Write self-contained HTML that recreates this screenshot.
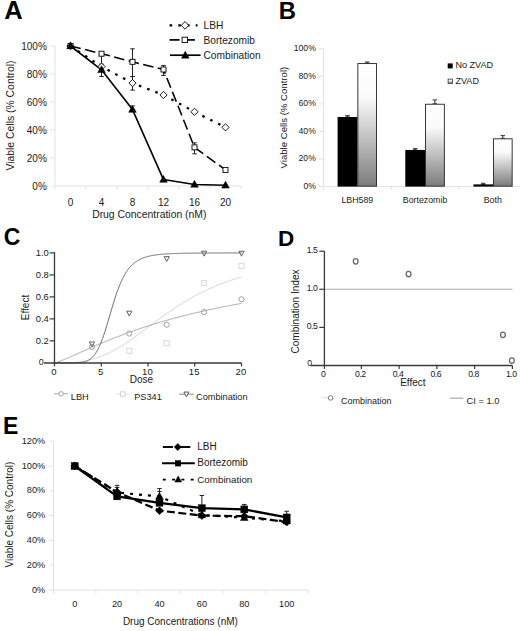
<!DOCTYPE html><html><head><meta charset="utf-8"><style>html,body{margin:0;padding:0;background:#fff;width:520px;height:631px;overflow:hidden}svg{display:block}text{font-family:"Liberation Sans",sans-serif}</style></head><body>
<svg width="520" height="631" viewBox="0 0 520 631">
<defs><linearGradient id="gb" x1="0" y1="0" x2="0" y2="1"><stop offset="0" stop-color="#ffffff"/><stop offset="0.28" stop-color="#fafafa"/><stop offset="1" stop-color="#7c7c7c"/></linearGradient></defs>
<rect width="520" height="631" fill="#fff"/>
<line x1="55.00" y1="46.00" x2="55.00" y2="189.50" stroke="#e2e2e2" stroke-width="1" stroke-linecap="butt"/>
<line x1="55.00" y1="186.00" x2="241.00" y2="186.00" stroke="#e2e2e2" stroke-width="1" stroke-linecap="butt"/>
<line x1="50.50" y1="186.00" x2="55.00" y2="186.00" stroke="#e2e2e2" stroke-width="1" stroke-linecap="butt"/>
<line x1="50.50" y1="158.00" x2="55.00" y2="158.00" stroke="#e2e2e2" stroke-width="1" stroke-linecap="butt"/>
<line x1="50.50" y1="130.00" x2="55.00" y2="130.00" stroke="#e2e2e2" stroke-width="1" stroke-linecap="butt"/>
<line x1="50.50" y1="102.00" x2="55.00" y2="102.00" stroke="#e2e2e2" stroke-width="1" stroke-linecap="butt"/>
<line x1="50.50" y1="74.00" x2="55.00" y2="74.00" stroke="#e2e2e2" stroke-width="1" stroke-linecap="butt"/>
<line x1="50.50" y1="46.00" x2="55.00" y2="46.00" stroke="#e2e2e2" stroke-width="1" stroke-linecap="butt"/>
<line x1="86.00" y1="186.00" x2="86.00" y2="189.50" stroke="#e2e2e2" stroke-width="1" stroke-linecap="butt"/>
<line x1="117.00" y1="186.00" x2="117.00" y2="189.50" stroke="#e2e2e2" stroke-width="1" stroke-linecap="butt"/>
<line x1="148.00" y1="186.00" x2="148.00" y2="189.50" stroke="#e2e2e2" stroke-width="1" stroke-linecap="butt"/>
<line x1="179.00" y1="186.00" x2="179.00" y2="189.50" stroke="#e2e2e2" stroke-width="1" stroke-linecap="butt"/>
<line x1="210.00" y1="186.00" x2="210.00" y2="189.50" stroke="#e2e2e2" stroke-width="1" stroke-linecap="butt"/>
<line x1="241.00" y1="186.00" x2="241.00" y2="189.50" stroke="#e2e2e2" stroke-width="1" stroke-linecap="butt"/>
<text x="46.80" y="189.50" font-size="10" text-anchor="end" fill="#1a1a1a" font-weight="normal">0%</text>
<text x="46.80" y="161.50" font-size="10" text-anchor="end" fill="#1a1a1a" font-weight="normal">20%</text>
<text x="46.80" y="133.50" font-size="10" text-anchor="end" fill="#1a1a1a" font-weight="normal">40%</text>
<text x="46.80" y="105.50" font-size="10" text-anchor="end" fill="#1a1a1a" font-weight="normal">60%</text>
<text x="46.80" y="77.50" font-size="10" text-anchor="end" fill="#1a1a1a" font-weight="normal">80%</text>
<text x="46.80" y="49.50" font-size="10" text-anchor="end" fill="#1a1a1a" font-weight="normal">100%</text>
<text x="70.50" y="205.60" font-size="10" text-anchor="middle" fill="#1a1a1a" font-weight="normal">0</text>
<text x="101.50" y="205.60" font-size="10" text-anchor="middle" fill="#1a1a1a" font-weight="normal">4</text>
<text x="132.50" y="205.60" font-size="10" text-anchor="middle" fill="#1a1a1a" font-weight="normal">8</text>
<text x="163.50" y="205.60" font-size="10" text-anchor="middle" fill="#1a1a1a" font-weight="normal">12</text>
<text x="194.50" y="205.60" font-size="10" text-anchor="middle" fill="#1a1a1a" font-weight="normal">16</text>
<text x="225.50" y="205.60" font-size="10" text-anchor="middle" fill="#1a1a1a" font-weight="normal">20</text>
<text x="149.30" y="218.20" font-size="10.4" text-anchor="middle" fill="#1a1a1a" font-weight="normal">Drug Concentration (nM)</text>
<text x="14.00" y="115.50" font-size="10.4" text-anchor="middle" fill="#1a1a1a" font-weight="normal" transform="rotate(-90 14 115.5)">Viable Cells (% Control)</text>
<line x1="101.50" y1="53.70" x2="101.50" y2="64.20" stroke="#222" stroke-width="1" stroke-linecap="butt"/>
<line x1="99.25" y1="53.70" x2="103.75" y2="53.70" stroke="#222" stroke-width="1" stroke-linecap="butt"/>
<line x1="99.25" y1="64.20" x2="103.75" y2="64.20" stroke="#222" stroke-width="1" stroke-linecap="butt"/>
<line x1="101.50" y1="69.80" x2="101.50" y2="76.52" stroke="#222" stroke-width="1" stroke-linecap="butt"/>
<line x1="99.25" y1="69.80" x2="103.75" y2="69.80" stroke="#222" stroke-width="1" stroke-linecap="butt"/>
<line x1="99.25" y1="76.52" x2="103.75" y2="76.52" stroke="#222" stroke-width="1" stroke-linecap="butt"/>
<line x1="132.50" y1="48.80" x2="132.50" y2="76.52" stroke="#222" stroke-width="1" stroke-linecap="butt"/>
<line x1="130.25" y1="48.80" x2="134.75" y2="48.80" stroke="#222" stroke-width="1" stroke-linecap="butt"/>
<line x1="130.25" y1="76.52" x2="134.75" y2="76.52" stroke="#222" stroke-width="1" stroke-linecap="butt"/>
<line x1="132.50" y1="76.52" x2="132.50" y2="90.10" stroke="#222" stroke-width="1" stroke-linecap="butt"/>
<line x1="130.25" y1="76.52" x2="134.75" y2="76.52" stroke="#222" stroke-width="1" stroke-linecap="butt"/>
<line x1="130.25" y1="90.10" x2="134.75" y2="90.10" stroke="#222" stroke-width="1" stroke-linecap="butt"/>
<line x1="132.50" y1="105.92" x2="132.50" y2="109.56" stroke="#222" stroke-width="1" stroke-linecap="butt"/>
<line x1="130.25" y1="105.92" x2="134.75" y2="105.92" stroke="#222" stroke-width="1" stroke-linecap="butt"/>
<line x1="130.25" y1="109.56" x2="134.75" y2="109.56" stroke="#222" stroke-width="1" stroke-linecap="butt"/>
<line x1="163.50" y1="65.46" x2="163.50" y2="75.40" stroke="#222" stroke-width="1" stroke-linecap="butt"/>
<line x1="161.25" y1="65.46" x2="165.75" y2="65.46" stroke="#222" stroke-width="1" stroke-linecap="butt"/>
<line x1="161.25" y1="75.40" x2="165.75" y2="75.40" stroke="#222" stroke-width="1" stroke-linecap="butt"/>
<line x1="194.50" y1="142.88" x2="194.50" y2="153.80" stroke="#222" stroke-width="1" stroke-linecap="butt"/>
<line x1="192.25" y1="142.88" x2="196.75" y2="142.88" stroke="#222" stroke-width="1" stroke-linecap="butt"/>
<line x1="192.25" y1="153.80" x2="196.75" y2="153.80" stroke="#222" stroke-width="1" stroke-linecap="butt"/>
<polyline points="70.50,46.00 101.50,66.58 132.50,83.10 163.50,95.00 194.50,111.80 225.50,127.34" fill="none" stroke="#000" stroke-width="2.2" stroke-dasharray="2.6,6.2" stroke-linecap="butt" stroke-linejoin="round"/>
<polyline points="70.50,46.00 101.50,53.70 132.50,61.82 163.50,69.52 194.50,147.36 225.50,169.90" fill="none" stroke="#000" stroke-width="1.55" stroke-dasharray="10.5,4.5" stroke-linecap="butt" stroke-linejoin="round"/>
<polyline points="70.50,46.00 101.50,69.80 132.50,109.56 163.50,179.56 194.50,184.46 225.50,185.30" fill="none" stroke="#000" stroke-width="1.6" stroke-linecap="butt" stroke-linejoin="round"/>
<path d="M70.50,42.40 L74.10,46.00 L70.50,49.60 L66.90,46.00 Z" fill="#fff" stroke="#000" stroke-width="0.9"/>
<path d="M101.50,62.98 L105.10,66.58 L101.50,70.18 L97.90,66.58 Z" fill="#fff" stroke="#000" stroke-width="0.9"/>
<path d="M132.50,79.50 L136.10,83.10 L132.50,86.70 L128.90,83.10 Z" fill="#fff" stroke="#000" stroke-width="0.9"/>
<path d="M163.50,91.40 L167.10,95.00 L163.50,98.60 L159.90,95.00 Z" fill="#fff" stroke="#000" stroke-width="0.9"/>
<path d="M194.50,108.20 L198.10,111.80 L194.50,115.40 L190.90,111.80 Z" fill="#fff" stroke="#000" stroke-width="0.9"/>
<path d="M225.50,123.74 L229.10,127.34 L225.50,130.94 L221.90,127.34 Z" fill="#fff" stroke="#000" stroke-width="0.9"/>
<rect x="68.00" y="43.50" width="5.00" height="5.00" fill="#fff" stroke="#000" stroke-width="0.9"/>
<rect x="99.00" y="51.20" width="5.00" height="5.00" fill="#fff" stroke="#000" stroke-width="0.9"/>
<rect x="130.00" y="59.32" width="5.00" height="5.00" fill="#fff" stroke="#000" stroke-width="0.9"/>
<rect x="161.00" y="67.02" width="5.00" height="5.00" fill="#fff" stroke="#000" stroke-width="0.9"/>
<rect x="192.00" y="144.86" width="5.00" height="5.00" fill="#fff" stroke="#000" stroke-width="0.9"/>
<rect x="223.00" y="167.40" width="5.00" height="5.00" fill="#fff" stroke="#000" stroke-width="0.9"/>
<path d="M70.50,41.90 L74.30,48.74 L66.70,48.74 Z" fill="#000" stroke="#000" stroke-width="0.5" stroke-linejoin="miter"/>
<path d="M101.50,65.70 L105.30,72.54 L97.70,72.54 Z" fill="#000" stroke="#000" stroke-width="0.5" stroke-linejoin="miter"/>
<path d="M132.50,105.46 L136.30,112.30 L128.70,112.30 Z" fill="#000" stroke="#000" stroke-width="0.5" stroke-linejoin="miter"/>
<path d="M163.50,175.46 L167.30,182.30 L159.70,182.30 Z" fill="#000" stroke="#000" stroke-width="0.5" stroke-linejoin="miter"/>
<path d="M194.50,180.36 L198.30,187.20 L190.70,187.20 Z" fill="#000" stroke="#000" stroke-width="0.5" stroke-linejoin="miter"/>
<path d="M225.50,181.20 L229.30,188.04 L221.70,188.04 Z" fill="#000" stroke="#000" stroke-width="0.5" stroke-linejoin="miter"/>
<polyline points="169.60,25.40 197.50,25.40" fill="none" stroke="#000" stroke-width="2.2" stroke-dasharray="2.6,6.1" stroke-linecap="butt" stroke-linejoin="round"/>
<path d="M185.00,21.60 L188.80,25.40 L185.00,29.20 L181.20,25.40 Z" fill="#fff" stroke="#000" stroke-width="0.9"/>
<text x="203.50" y="29.00" font-size="10.2" text-anchor="start" fill="#1a1a1a" font-weight="normal">LBH</text>
<line x1="169.50" y1="39.90" x2="179.60" y2="39.90" stroke="#000" stroke-width="1.7" stroke-linecap="butt"/>
<line x1="187.20" y1="39.90" x2="194.90" y2="39.90" stroke="#000" stroke-width="1.7" stroke-linecap="butt"/>
<rect x="182.10" y="37.20" width="5.40" height="5.40" fill="#fff" stroke="#000" stroke-width="0.9"/>
<text x="203.50" y="43.80" font-size="10.2" text-anchor="start" fill="#1a1a1a" font-weight="normal">Bortezomib</text>
<line x1="169.90" y1="55.20" x2="200.60" y2="55.20" stroke="#000" stroke-width="1.7" stroke-linecap="butt"/>
<path d="M185.30,51.30 L189.10,58.14 L181.50,58.14 Z" fill="#000" stroke="#000" stroke-width="0.5" stroke-linejoin="miter"/>
<text x="203.50" y="59.20" font-size="10.2" text-anchor="start" fill="#1a1a1a" font-weight="normal">Combination</text>
<text x="4.30" y="19.00" font-size="25.5" text-anchor="start" fill="#000" font-weight="bold">A</text>
<line x1="323.50" y1="48.80" x2="323.50" y2="190.00" stroke="#e2e2e2" stroke-width="1" stroke-linecap="butt"/>
<line x1="323.50" y1="186.60" x2="520.00" y2="186.60" stroke="#e2e2e2" stroke-width="1" stroke-linecap="butt"/>
<line x1="319.00" y1="186.60" x2="323.50" y2="186.60" stroke="#e2e2e2" stroke-width="1" stroke-linecap="butt"/>
<line x1="319.00" y1="159.04" x2="323.50" y2="159.04" stroke="#e2e2e2" stroke-width="1" stroke-linecap="butt"/>
<line x1="319.00" y1="131.48" x2="323.50" y2="131.48" stroke="#e2e2e2" stroke-width="1" stroke-linecap="butt"/>
<line x1="319.00" y1="103.92" x2="323.50" y2="103.92" stroke="#e2e2e2" stroke-width="1" stroke-linecap="butt"/>
<line x1="319.00" y1="76.36" x2="323.50" y2="76.36" stroke="#e2e2e2" stroke-width="1" stroke-linecap="butt"/>
<line x1="319.00" y1="48.80" x2="323.50" y2="48.80" stroke="#e2e2e2" stroke-width="1" stroke-linecap="butt"/>
<line x1="391.20" y1="186.60" x2="391.20" y2="190.00" stroke="#e2e2e2" stroke-width="1" stroke-linecap="butt"/>
<line x1="458.90" y1="186.60" x2="458.90" y2="190.00" stroke="#e2e2e2" stroke-width="1" stroke-linecap="butt"/>
<text x="315.80" y="189.00" font-size="8.6" text-anchor="end" fill="#1a1a1a" font-weight="normal">0%</text>
<text x="315.80" y="161.44" font-size="8.6" text-anchor="end" fill="#1a1a1a" font-weight="normal">20%</text>
<text x="315.80" y="133.88" font-size="8.6" text-anchor="end" fill="#1a1a1a" font-weight="normal">40%</text>
<text x="315.80" y="106.32" font-size="8.6" text-anchor="end" fill="#1a1a1a" font-weight="normal">60%</text>
<text x="315.80" y="78.76" font-size="8.6" text-anchor="end" fill="#1a1a1a" font-weight="normal">80%</text>
<text x="315.80" y="51.20" font-size="8.6" text-anchor="end" fill="#1a1a1a" font-weight="normal">100%</text>
<text x="357.35" y="203.30" font-size="8.8" text-anchor="middle" fill="#1a1a1a" font-weight="normal">LBH589</text>
<text x="425.05" y="203.30" font-size="8.8" text-anchor="middle" fill="#1a1a1a" font-weight="normal">Bortezomib</text>
<text x="492.75" y="203.30" font-size="8.8" text-anchor="middle" fill="#1a1a1a" font-weight="normal">Both</text>
<text x="286.70" y="117.60" font-size="9.6" text-anchor="middle" fill="#1a1a1a" font-weight="normal" transform="rotate(-90 286.7 117.6)">Viable Cells (% Control)</text>
<line x1="347.50" y1="115.63" x2="347.50" y2="117.01" stroke="#333" stroke-width="1" stroke-linecap="butt"/>
<line x1="345.25" y1="115.63" x2="349.75" y2="115.63" stroke="#333" stroke-width="1" stroke-linecap="butt"/>
<line x1="345.25" y1="117.01" x2="349.75" y2="117.01" stroke="#333" stroke-width="1" stroke-linecap="butt"/>
<rect x="337.60" y="117.01" width="19.80" height="69.59" fill="#000"/>
<line x1="415.15" y1="148.57" x2="415.15" y2="149.95" stroke="#333" stroke-width="1" stroke-linecap="butt"/>
<line x1="412.90" y1="148.57" x2="417.40" y2="148.57" stroke="#333" stroke-width="1" stroke-linecap="butt"/>
<line x1="412.90" y1="149.95" x2="417.40" y2="149.95" stroke="#333" stroke-width="1" stroke-linecap="butt"/>
<rect x="405.30" y="149.95" width="19.70" height="36.65" fill="#000"/>
<line x1="483.20" y1="183.29" x2="483.20" y2="184.40" stroke="#333" stroke-width="1" stroke-linecap="butt"/>
<line x1="480.95" y1="183.29" x2="485.45" y2="183.29" stroke="#333" stroke-width="1" stroke-linecap="butt"/>
<line x1="480.95" y1="184.40" x2="485.45" y2="184.40" stroke="#333" stroke-width="1" stroke-linecap="butt"/>
<rect x="473.40" y="184.40" width="19.60" height="2.20" fill="#000"/>
<line x1="367.20" y1="62.03" x2="367.20" y2="63.13" stroke="#333" stroke-width="1" stroke-linecap="butt"/>
<line x1="364.95" y1="62.03" x2="369.45" y2="62.03" stroke="#333" stroke-width="1" stroke-linecap="butt"/>
<line x1="364.95" y1="63.13" x2="369.45" y2="63.13" stroke="#333" stroke-width="1" stroke-linecap="butt"/>
<rect x="357.85" y="63.58" width="18.70" height="122.57" fill="url(#gb)" stroke="#222" stroke-width="0.9"/>
<line x1="434.90" y1="99.92" x2="434.90" y2="103.78" stroke="#333" stroke-width="1" stroke-linecap="butt"/>
<line x1="432.65" y1="99.92" x2="437.15" y2="99.92" stroke="#333" stroke-width="1" stroke-linecap="butt"/>
<line x1="432.65" y1="103.78" x2="437.15" y2="103.78" stroke="#333" stroke-width="1" stroke-linecap="butt"/>
<rect x="425.45" y="104.23" width="18.90" height="81.92" fill="url(#gb)" stroke="#222" stroke-width="0.9"/>
<line x1="502.80" y1="135.61" x2="502.80" y2="138.37" stroke="#333" stroke-width="1" stroke-linecap="butt"/>
<line x1="500.55" y1="135.61" x2="505.05" y2="135.61" stroke="#333" stroke-width="1" stroke-linecap="butt"/>
<line x1="500.55" y1="138.37" x2="505.05" y2="138.37" stroke="#333" stroke-width="1" stroke-linecap="butt"/>
<rect x="493.45" y="138.82" width="18.70" height="47.33" fill="url(#gb)" stroke="#222" stroke-width="0.9"/>
<rect x="447.7" y="63.4" width="5" height="5" fill="#000"/>
<text x="455.40" y="68.20" font-size="9.1" text-anchor="start" fill="#1a1a1a" font-weight="normal">No ZVAD</text>
<rect x="448.1" y="79.1" width="4.4" height="4.4" fill="url(#gb)" stroke="#333" stroke-width="0.8"/>
<text x="455.40" y="83.90" font-size="9.1" text-anchor="start" fill="#1a1a1a" font-weight="normal">ZVAD</text>
<text x="278.80" y="18.80" font-size="23.8" text-anchor="start" fill="#000" font-weight="bold">B</text>
<polyline points="54.50,362.90 54.97,362.90 55.44,362.90 55.90,362.90 56.37,362.90 56.84,362.90 57.30,362.90 57.77,362.90 58.24,362.90 58.71,362.89 59.17,362.89 59.64,362.89 60.11,362.88 60.58,362.88 61.05,362.88 61.51,362.87 61.98,362.87 62.45,362.86 62.91,362.85 63.38,362.84 63.85,362.83 64.32,362.82 64.78,362.81 65.25,362.80 65.72,362.79 66.19,362.77 66.66,362.76 67.12,362.74 67.59,362.72 68.06,362.71 68.53,362.69 68.99,362.66 69.46,362.64 69.93,362.62 70.39,362.59 70.86,362.57 71.33,362.54 71.80,362.51 72.27,362.48 72.73,362.44 73.20,362.41 73.67,362.37 74.14,362.33 74.60,362.29 75.07,362.25 75.54,362.21 76.00,362.16 76.47,362.12 76.94,362.07 77.41,362.02 77.88,361.96 78.34,361.91 78.81,361.85 79.28,361.79 79.75,361.73 80.21,361.67 80.68,361.60 81.15,361.54 81.61,361.47 82.08,361.40 82.55,361.32 83.02,361.25 83.48,361.17 83.95,361.09 84.42,361.00 84.89,360.92 85.35,360.83 85.82,360.74 86.29,360.65 86.76,360.55 87.22,360.45 87.69,360.35 88.16,360.25 88.63,360.14 89.09,360.04 89.56,359.93 90.03,359.81 90.50,359.70 90.97,359.58 91.43,359.46 91.90,359.33 92.37,359.21 92.83,359.08 93.30,358.95 93.77,358.81 94.24,358.67 94.70,358.53 95.17,358.39 95.64,358.25 96.11,358.10 96.57,357.95 97.04,357.79 97.51,357.64 97.98,357.48 98.44,357.31 98.91,357.15 99.38,356.98 99.85,356.81 100.31,356.64 100.78,356.46 101.25,356.28 101.72,356.10 102.19,355.92 102.65,355.73 103.12,355.54 103.59,355.34 104.06,355.15 104.52,354.95 104.99,354.75 105.46,354.55 105.92,354.34 106.39,354.13 106.86,353.92 107.33,353.70 107.80,353.48 108.26,353.26 108.73,353.04 109.20,352.82 109.66,352.59 110.13,352.36 110.60,352.12 111.07,351.89 111.53,351.65 112.00,351.41 112.47,351.16 112.94,350.92 113.41,350.67 113.87,350.41 114.34,350.16 114.81,349.90 115.28,349.65 115.74,349.38 116.21,349.12 116.68,348.85 117.14,348.59 117.61,348.32 118.08,348.04 118.55,347.77 119.02,347.49 119.48,347.21 119.95,346.93 120.42,346.65 120.88,346.36 121.35,346.07 121.82,345.78 122.29,345.49 122.75,345.19 123.22,344.90 123.69,344.60 124.16,344.30 124.62,344.00 125.09,343.70 125.56,343.39 126.03,343.08 126.50,342.77 126.96,342.46 127.43,342.15 127.90,341.84 128.37,341.52 128.83,341.21 129.30,340.89 129.77,340.57 130.24,340.25 130.70,339.92 131.17,339.60 131.64,339.27 132.11,338.95 132.57,338.62 133.04,338.29 133.51,337.96 133.97,337.63 134.44,337.30 134.91,336.96 135.38,336.63 135.84,336.29 136.31,335.95 136.78,335.62 137.25,335.28 137.72,334.94 138.18,334.60 138.65,334.26 139.12,333.92 139.58,333.57 140.05,333.23 140.52,332.89 140.99,332.54 141.45,332.20 141.92,331.85 142.39,331.51 142.86,331.16 143.32,330.81 143.79,330.47 144.26,330.12 144.73,329.77 145.19,329.42 145.66,329.08 146.13,328.73 146.60,328.38 147.06,328.03 147.53,327.68 148.00,327.33 148.47,326.98 148.94,326.63 149.40,326.29 149.87,325.94 150.34,325.59 150.81,325.24 151.27,324.89 151.74,324.54 152.21,324.19 152.68,323.85 153.14,323.50 153.61,323.15 154.08,322.80 154.54,322.46 155.01,322.11 155.48,321.76 155.95,321.42 156.42,321.07 156.88,320.73 157.35,320.39 157.82,320.04 158.28,319.70 158.75,319.36 159.22,319.01 159.69,318.67 160.16,318.33 160.62,317.99 161.09,317.65 161.56,317.32 162.02,316.98 162.49,316.64 162.96,316.30 163.43,315.97 163.89,315.64 164.36,315.30 164.83,314.97 165.30,314.64 165.76,314.31 166.23,313.98 166.70,313.65 167.17,313.32 167.63,312.99 168.10,312.66 168.57,312.34 169.04,312.02 169.50,311.69 169.97,311.37 170.44,311.05 170.91,310.73 171.38,310.41 171.84,310.09 172.31,309.78 172.78,309.46 173.25,309.15 173.71,308.83 174.18,308.52 174.65,308.21 175.12,307.90 175.58,307.59 176.05,307.28 176.52,306.98 176.98,306.67 177.45,306.37 177.92,306.07 178.39,305.77 178.86,305.47 179.32,305.17 179.79,304.87 180.26,304.57 180.72,304.28 181.19,303.99 181.66,303.69 182.13,303.40 182.59,303.11 183.06,302.83 183.53,302.54 184.00,302.25 184.47,301.97 184.93,301.69 185.40,301.40 185.87,301.12 186.33,300.85 186.80,300.57 187.27,300.29 187.74,300.02 188.21,299.74 188.67,299.47 189.14,299.20 189.61,298.93 190.07,298.66 190.54,298.40 191.01,298.13 191.48,297.87 191.94,297.61 192.41,297.34 192.88,297.09 193.35,296.83 193.81,296.57 194.28,296.31 194.75,296.06 195.22,295.81 195.69,295.56 196.15,295.31 196.62,295.06 197.09,294.81 197.56,294.56 198.02,294.32 198.49,294.08 198.96,293.83 199.42,293.59 199.89,293.35 200.36,293.12 200.83,292.88 201.29,292.64 201.76,292.41 202.23,292.18 202.70,291.95 203.16,291.72 203.63,291.49 204.10,291.26 204.57,291.04 205.03,290.81 205.50,290.59 205.97,290.37 206.44,290.15 206.91,289.93 207.37,289.71 207.84,289.49 208.31,289.28 208.78,289.06 209.24,288.85 209.71,288.64 210.18,288.43 210.64,288.22 211.11,288.01 211.58,287.81 212.05,287.60 212.51,287.40 212.98,287.20 213.45,286.99 213.92,286.79 214.39,286.60 214.85,286.40 215.32,286.20 215.79,286.01 216.25,285.81 216.72,285.62 217.19,285.43 217.66,285.24 218.12,285.05 218.59,284.86 219.06,284.67 219.53,284.49 219.99,284.30 220.46,284.12 220.93,283.94 221.40,283.76 221.86,283.58 222.33,283.40 222.80,283.22 223.27,283.05 223.74,282.87 224.20,282.70 224.67,282.52 225.14,282.35 225.60,282.18 226.07,282.01 226.54,281.84 227.01,281.67 227.47,281.51 227.94,281.34 228.41,281.18 228.88,281.02 229.34,280.85 229.81,280.69 230.28,280.53 230.75,280.37 231.21,280.21 231.68,280.06 232.15,279.90 232.62,279.75 233.09,279.59 233.55,279.44 234.02,279.29 234.49,279.14 234.96,278.99 235.42,278.84 235.89,278.69 236.36,278.54 236.82,278.40 237.29,278.25 237.76,278.11 238.23,277.96 238.69,277.82 239.16,277.68 239.63,277.54 240.10,277.40 240.56,277.26 241.03,277.12 241.50,276.99" fill="none" stroke="#dedede" stroke-width="1.1" stroke-linecap="butt" stroke-linejoin="round"/>
<polyline points="54.50,362.90 54.97,362.81 55.44,362.70 55.90,362.57 56.37,362.43 56.84,362.29 57.30,362.13 57.77,361.98 58.24,361.82 58.71,361.65 59.17,361.48 59.64,361.31 60.11,361.13 60.58,360.96 61.05,360.77 61.51,360.59 61.98,360.41 62.45,360.22 62.91,360.03 63.38,359.84 63.85,359.65 64.32,359.46 64.78,359.26 65.25,359.07 65.72,358.87 66.19,358.67 66.66,358.47 67.12,358.27 67.59,358.07 68.06,357.87 68.53,357.67 68.99,357.47 69.46,357.26 69.93,357.06 70.39,356.85 70.86,356.65 71.33,356.44 71.80,356.24 72.27,356.03 72.73,355.82 73.20,355.62 73.67,355.41 74.14,355.20 74.60,354.99 75.07,354.78 75.54,354.58 76.00,354.37 76.47,354.16 76.94,353.95 77.41,353.74 77.88,353.53 78.34,353.32 78.81,353.11 79.28,352.90 79.75,352.69 80.21,352.48 80.68,352.28 81.15,352.07 81.61,351.86 82.08,351.65 82.55,351.44 83.02,351.23 83.48,351.02 83.95,350.81 84.42,350.61 84.89,350.40 85.35,350.19 85.82,349.98 86.29,349.77 86.76,349.57 87.22,349.36 87.69,349.15 88.16,348.95 88.63,348.74 89.09,348.53 89.56,348.33 90.03,348.12 90.50,347.92 90.97,347.71 91.43,347.51 91.90,347.30 92.37,347.10 92.83,346.90 93.30,346.69 93.77,346.49 94.24,346.29 94.70,346.09 95.17,345.88 95.64,345.68 96.11,345.48 96.57,345.28 97.04,345.08 97.51,344.88 97.98,344.68 98.44,344.48 98.91,344.28 99.38,344.08 99.85,343.89 100.31,343.69 100.78,343.49 101.25,343.29 101.72,343.10 102.19,342.90 102.65,342.71 103.12,342.51 103.59,342.32 104.06,342.12 104.52,341.93 104.99,341.74 105.46,341.54 105.92,341.35 106.39,341.16 106.86,340.97 107.33,340.78 107.80,340.59 108.26,340.40 108.73,340.21 109.20,340.02 109.66,339.83 110.13,339.64 110.60,339.45 111.07,339.26 111.53,339.08 112.00,338.89 112.47,338.71 112.94,338.52 113.41,338.33 113.87,338.15 114.34,337.97 114.81,337.78 115.28,337.60 115.74,337.42 116.21,337.23 116.68,337.05 117.14,336.87 117.61,336.69 118.08,336.51 118.55,336.33 119.02,336.15 119.48,335.97 119.95,335.80 120.42,335.62 120.88,335.44 121.35,335.26 121.82,335.09 122.29,334.91 122.75,334.74 123.22,334.56 123.69,334.39 124.16,334.21 124.62,334.04 125.09,333.87 125.56,333.69 126.03,333.52 126.50,333.35 126.96,333.18 127.43,333.01 127.90,332.84 128.37,332.67 128.83,332.50 129.30,332.33 129.77,332.16 130.24,332.00 130.70,331.83 131.17,331.66 131.64,331.50 132.11,331.33 132.57,331.17 133.04,331.00 133.51,330.84 133.97,330.67 134.44,330.51 134.91,330.35 135.38,330.18 135.84,330.02 136.31,329.86 136.78,329.70 137.25,329.54 137.72,329.38 138.18,329.22 138.65,329.06 139.12,328.90 139.58,328.75 140.05,328.59 140.52,328.43 140.99,328.27 141.45,328.12 141.92,327.96 142.39,327.81 142.86,327.65 143.32,327.50 143.79,327.34 144.26,327.19 144.73,327.04 145.19,326.88 145.66,326.73 146.13,326.58 146.60,326.43 147.06,326.28 147.53,326.13 148.00,325.98 148.47,325.83 148.94,325.68 149.40,325.53 149.87,325.38 150.34,325.24 150.81,325.09 151.27,324.94 151.74,324.80 152.21,324.65 152.68,324.50 153.14,324.36 153.61,324.21 154.08,324.07 154.54,323.93 155.01,323.78 155.48,323.64 155.95,323.50 156.42,323.36 156.88,323.21 157.35,323.07 157.82,322.93 158.28,322.79 158.75,322.65 159.22,322.51 159.69,322.37 160.16,322.24 160.62,322.10 161.09,321.96 161.56,321.82 162.02,321.69 162.49,321.55 162.96,321.41 163.43,321.28 163.89,321.14 164.36,321.01 164.83,320.87 165.30,320.74 165.76,320.61 166.23,320.47 166.70,320.34 167.17,320.21 167.63,320.07 168.10,319.94 168.57,319.81 169.04,319.68 169.50,319.55 169.97,319.42 170.44,319.29 170.91,319.16 171.38,319.03 171.84,318.90 172.31,318.78 172.78,318.65 173.25,318.52 173.71,318.39 174.18,318.27 174.65,318.14 175.12,318.02 175.58,317.89 176.05,317.76 176.52,317.64 176.98,317.52 177.45,317.39 177.92,317.27 178.39,317.15 178.86,317.02 179.32,316.90 179.79,316.78 180.26,316.66 180.72,316.53 181.19,316.41 181.66,316.29 182.13,316.17 182.59,316.05 183.06,315.93 183.53,315.81 184.00,315.70 184.47,315.58 184.93,315.46 185.40,315.34 185.87,315.22 186.33,315.11 186.80,314.99 187.27,314.87 187.74,314.76 188.21,314.64 188.67,314.53 189.14,314.41 189.61,314.30 190.07,314.18 190.54,314.07 191.01,313.95 191.48,313.84 191.94,313.73 192.41,313.61 192.88,313.50 193.35,313.39 193.81,313.28 194.28,313.17 194.75,313.06 195.22,312.95 195.69,312.84 196.15,312.73 196.62,312.62 197.09,312.51 197.56,312.40 198.02,312.29 198.49,312.18 198.96,312.07 199.42,311.96 199.89,311.86 200.36,311.75 200.83,311.64 201.29,311.54 201.76,311.43 202.23,311.32 202.70,311.22 203.16,311.11 203.63,311.01 204.10,310.90 204.57,310.80 205.03,310.70 205.50,310.59 205.97,310.49 206.44,310.38 206.91,310.28 207.37,310.18 207.84,310.08 208.31,309.97 208.78,309.87 209.24,309.77 209.71,309.67 210.18,309.57 210.64,309.47 211.11,309.37 211.58,309.27 212.05,309.17 212.51,309.07 212.98,308.97 213.45,308.87 213.92,308.77 214.39,308.68 214.85,308.58 215.32,308.48 215.79,308.38 216.25,308.29 216.72,308.19 217.19,308.09 217.66,308.00 218.12,307.90 218.59,307.80 219.06,307.71 219.53,307.61 219.99,307.52 220.46,307.42 220.93,307.33 221.40,307.24 221.86,307.14 222.33,307.05 222.80,306.95 223.27,306.86 223.74,306.77 224.20,306.68 224.67,306.58 225.14,306.49 225.60,306.40 226.07,306.31 226.54,306.22 227.01,306.13 227.47,306.04 227.94,305.95 228.41,305.86 228.88,305.77 229.34,305.68 229.81,305.59 230.28,305.50 230.75,305.41 231.21,305.32 231.68,305.23 232.15,305.14 232.62,305.06 233.09,304.97 233.55,304.88 234.02,304.79 234.49,304.71 234.96,304.62 235.42,304.53 235.89,304.45 236.36,304.36 236.82,304.27 237.29,304.19 237.76,304.10 238.23,304.02 238.69,303.93 239.16,303.85 239.63,303.77 240.10,303.68 240.56,303.60 241.03,303.51 241.50,303.43" fill="none" stroke="#a0a0a0" stroke-width="1" stroke-linecap="butt" stroke-linejoin="round"/>
<polyline points="54.50,362.90 54.97,362.90 55.44,362.90 55.90,362.90 56.37,362.90 56.84,362.90 57.30,362.90 57.77,362.90 58.24,362.90 58.71,362.90 59.17,362.90 59.64,362.90 60.11,362.90 60.58,362.90 61.05,362.90 61.51,362.90 61.98,362.90 62.45,362.90 62.91,362.90 63.38,362.90 63.85,362.90 64.32,362.90 64.78,362.90 65.25,362.90 65.72,362.90 66.19,362.90 66.66,362.90 67.12,362.90 67.59,362.90 68.06,362.90 68.53,362.89 68.99,362.89 69.46,362.89 69.93,362.89 70.39,362.89 70.86,362.88 71.33,362.88 71.80,362.88 72.27,362.87 72.73,362.86 73.20,362.86 73.67,362.85 74.14,362.84 74.60,362.83 75.07,362.82 75.54,362.80 76.00,362.79 76.47,362.77 76.94,362.75 77.41,362.73 77.88,362.70 78.34,362.67 78.81,362.64 79.28,362.60 79.75,362.56 80.21,362.51 80.68,362.46 81.15,362.40 81.61,362.33 82.08,362.26 82.55,362.18 83.02,362.09 83.48,362.00 83.95,361.89 84.42,361.78 84.89,361.65 85.35,361.51 85.82,361.36 86.29,361.19 86.76,361.01 87.22,360.81 87.69,360.60 88.16,360.37 88.63,360.12 89.09,359.85 89.56,359.56 90.03,359.24 90.50,358.91 90.97,358.54 91.43,358.15 91.90,357.74 92.37,357.29 92.83,356.82 93.30,356.31 93.77,355.77 94.24,355.20 94.70,354.59 95.17,353.95 95.64,353.27 96.11,352.55 96.57,351.79 97.04,351.00 97.51,350.16 97.98,349.28 98.44,348.37 98.91,347.41 99.38,346.40 99.85,345.36 100.31,344.28 100.78,343.15 101.25,341.98 101.72,340.78 102.19,339.54 102.65,338.25 103.12,336.94 103.59,335.58 104.06,334.20 104.52,332.78 104.99,331.34 105.46,329.87 105.92,328.37 106.39,326.85 106.86,325.31 107.33,323.76 107.80,322.19 108.26,320.61 108.73,319.02 109.20,317.43 109.66,315.83 110.13,314.24 110.60,312.64 111.07,311.05 111.53,309.47 112.00,307.90 112.47,306.34 112.94,304.80 113.41,303.27 113.87,301.77 114.34,300.28 114.81,298.82 115.28,297.38 115.74,295.96 116.21,294.58 116.68,293.22 117.14,291.89 117.61,290.59 118.08,289.32 118.55,288.08 119.02,286.87 119.48,285.70 119.95,284.56 120.42,283.44 120.88,282.36 121.35,281.32 121.82,280.30 122.29,279.32 122.75,278.36 123.22,277.44 123.69,276.55 124.16,275.68 124.62,274.85 125.09,274.04 125.56,273.27 126.03,272.52 126.50,271.79 126.96,271.09 127.43,270.42 127.90,269.77 128.37,269.15 128.83,268.54 129.30,267.96 129.77,267.41 130.24,266.87 130.70,266.35 131.17,265.85 131.64,265.38 132.11,264.92 132.57,264.47 133.04,264.05 133.51,263.64 133.97,263.24 134.44,262.87 134.91,262.50 135.38,262.15 135.84,261.82 136.31,261.49 136.78,261.18 137.25,260.88 137.72,260.60 138.18,260.32 138.65,260.06 139.12,259.80 139.58,259.55 140.05,259.32 140.52,259.09 140.99,258.87 141.45,258.66 141.92,258.46 142.39,258.27 142.86,258.08 143.32,257.90 143.79,257.73 144.26,257.56 144.73,257.40 145.19,257.25 145.66,257.10 146.13,256.96 146.60,256.82 147.06,256.69 147.53,256.56 148.00,256.44 148.47,256.32 148.94,256.21 149.40,256.10 149.87,256.00 150.34,255.90 150.81,255.80 151.27,255.70 151.74,255.61 152.21,255.53 152.68,255.44 153.14,255.36 153.61,255.28 154.08,255.21 154.54,255.13 155.01,255.06 155.48,255.00 155.95,254.93 156.42,254.87 156.88,254.81 157.35,254.75 157.82,254.69 158.28,254.64 158.75,254.58 159.22,254.53 159.69,254.48 160.16,254.43 160.62,254.39 161.09,254.34 161.56,254.30 162.02,254.26 162.49,254.22 162.96,254.18 163.43,254.14 163.89,254.11 164.36,254.07 164.83,254.04 165.30,254.00 165.76,253.97 166.23,253.94 166.70,253.91 167.17,253.88 167.63,253.86 168.10,253.83 168.57,253.80 169.04,253.78 169.50,253.75 169.97,253.73 170.44,253.71 170.91,253.68 171.38,253.66 171.84,253.64 172.31,253.62 172.78,253.60 173.25,253.58 173.71,253.56 174.18,253.55 174.65,253.53 175.12,253.51 175.58,253.50 176.05,253.48 176.52,253.46 176.98,253.45 177.45,253.44 177.92,253.42 178.39,253.41 178.86,253.39 179.32,253.38 179.79,253.37 180.26,253.36 180.72,253.35 181.19,253.33 181.66,253.32 182.13,253.31 182.59,253.30 183.06,253.29 183.53,253.28 184.00,253.27 184.47,253.26 184.93,253.25 185.40,253.25 185.87,253.24 186.33,253.23 186.80,253.22 187.27,253.21 187.74,253.21 188.21,253.20 188.67,253.19 189.14,253.18 189.61,253.18 190.07,253.17 190.54,253.16 191.01,253.16 191.48,253.15 191.94,253.15 192.41,253.14 192.88,253.13 193.35,253.13 193.81,253.12 194.28,253.12 194.75,253.11 195.22,253.11 195.69,253.10 196.15,253.10 196.62,253.09 197.09,253.09 197.56,253.09 198.02,253.08 198.49,253.08 198.96,253.07 199.42,253.07 199.89,253.07 200.36,253.06 200.83,253.06 201.29,253.06 201.76,253.05 202.23,253.05 202.70,253.05 203.16,253.04 203.63,253.04 204.10,253.04 204.57,253.03 205.03,253.03 205.50,253.03 205.97,253.02 206.44,253.02 206.91,253.02 207.37,253.02 207.84,253.01 208.31,253.01 208.78,253.01 209.24,253.01 209.71,253.01 210.18,253.00 210.64,253.00 211.11,253.00 211.58,253.00 212.05,252.99 212.51,252.99 212.98,252.99 213.45,252.99 213.92,252.99 214.39,252.99 214.85,252.98 215.32,252.98 215.79,252.98 216.25,252.98 216.72,252.98 217.19,252.98 217.66,252.97 218.12,252.97 218.59,252.97 219.06,252.97 219.53,252.97 219.99,252.97 220.46,252.97 220.93,252.96 221.40,252.96 221.86,252.96 222.33,252.96 222.80,252.96 223.27,252.96 223.74,252.96 224.20,252.96 224.67,252.96 225.14,252.95 225.60,252.95 226.07,252.95 226.54,252.95 227.01,252.95 227.47,252.95 227.94,252.95 228.41,252.95 228.88,252.95 229.34,252.95 229.81,252.94 230.28,252.94 230.75,252.94 231.21,252.94 231.68,252.94 232.15,252.94 232.62,252.94 233.09,252.94 233.55,252.94 234.02,252.94 234.49,252.94 234.96,252.94 235.42,252.94 235.89,252.94 236.36,252.93 236.82,252.93 237.29,252.93 237.76,252.93 238.23,252.93 238.69,252.93 239.16,252.93 239.63,252.93 240.10,252.93 240.56,252.93 241.03,252.93 241.50,252.93" fill="none" stroke="#666" stroke-width="1" stroke-linecap="butt" stroke-linejoin="round"/>
<rect x="126.80" y="348.30" width="5.00" height="5.00" fill="none" stroke="#d8d8d8" stroke-width="1"/>
<rect x="164.20" y="340.71" width="5.00" height="5.00" fill="none" stroke="#d8d8d8" stroke-width="1"/>
<rect x="201.60" y="280.65" width="5.00" height="5.00" fill="none" stroke="#d8d8d8" stroke-width="1"/>
<rect x="239.00" y="263.38" width="5.00" height="5.00" fill="none" stroke="#d8d8d8" stroke-width="1"/>
<circle cx="91.90" cy="346.84" r="2.60" fill="none" stroke="#a0a0a0" stroke-width="1"/>
<circle cx="129.30" cy="333.53" r="2.60" fill="none" stroke="#a0a0a0" stroke-width="1"/>
<circle cx="166.70" cy="324.73" r="2.60" fill="none" stroke="#a0a0a0" stroke-width="1"/>
<circle cx="204.10" cy="312.08" r="2.60" fill="none" stroke="#a0a0a0" stroke-width="1"/>
<circle cx="241.50" cy="299.32" r="2.60" fill="none" stroke="#a0a0a0" stroke-width="1"/>
<path d="M89.30,341.98 L94.50,341.98 L91.90,346.92 Z" fill="none" stroke="#606060" stroke-width="1" stroke-linejoin="miter"/>
<path d="M126.70,311.18 L131.90,311.18 L129.30,316.12 Z" fill="none" stroke="#606060" stroke-width="1" stroke-linejoin="miter"/>
<path d="M164.10,256.62 L169.30,256.62 L166.70,261.56 Z" fill="none" stroke="#606060" stroke-width="1" stroke-linejoin="miter"/>
<path d="M201.50,251.23 L206.70,251.23 L204.10,256.17 Z" fill="none" stroke="#606060" stroke-width="1" stroke-linejoin="miter"/>
<path d="M238.90,251.23 L244.10,251.23 L241.50,256.17 Z" fill="none" stroke="#606060" stroke-width="1" stroke-linejoin="miter"/>
<line x1="54.50" y1="252.00" x2="54.50" y2="363.50" stroke="#3a3a3a" stroke-width="1.3" stroke-linecap="butt"/>
<line x1="44.00" y1="362.90" x2="241.50" y2="362.90" stroke="#3a3a3a" stroke-width="1.5" stroke-linecap="butt"/>
<line x1="49.50" y1="340.90" x2="54.50" y2="340.90" stroke="#3a3a3a" stroke-width="1.2" stroke-linecap="butt"/>
<text x="48.80" y="344.20" font-size="9.4" text-anchor="end" fill="#1a1a1a" font-weight="normal">0.2</text>
<line x1="49.50" y1="318.90" x2="54.50" y2="318.90" stroke="#3a3a3a" stroke-width="1.2" stroke-linecap="butt"/>
<text x="48.80" y="322.20" font-size="9.4" text-anchor="end" fill="#1a1a1a" font-weight="normal">0.4</text>
<line x1="49.50" y1="296.90" x2="54.50" y2="296.90" stroke="#3a3a3a" stroke-width="1.2" stroke-linecap="butt"/>
<text x="48.80" y="300.20" font-size="9.4" text-anchor="end" fill="#1a1a1a" font-weight="normal">0.6</text>
<line x1="49.50" y1="274.90" x2="54.50" y2="274.90" stroke="#3a3a3a" stroke-width="1.2" stroke-linecap="butt"/>
<text x="48.80" y="278.20" font-size="9.4" text-anchor="end" fill="#1a1a1a" font-weight="normal">0.8</text>
<line x1="49.50" y1="252.90" x2="54.50" y2="252.90" stroke="#3a3a3a" stroke-width="1.2" stroke-linecap="butt"/>
<text x="48.80" y="256.20" font-size="9.4" text-anchor="end" fill="#1a1a1a" font-weight="normal">1.0</text>
<text x="41.30" y="365.10" font-size="9" text-anchor="middle" fill="#1a1a1a" font-weight="normal">0</text>
<line x1="54.50" y1="362.90" x2="54.50" y2="366.40" stroke="#3a3a3a" stroke-width="1.2" stroke-linecap="butt"/>
<text x="53.90" y="375.00" font-size="9.5" text-anchor="middle" fill="#1a1a1a" font-weight="normal">0</text>
<line x1="101.25" y1="362.90" x2="101.25" y2="366.40" stroke="#3a3a3a" stroke-width="1.2" stroke-linecap="butt"/>
<text x="100.65" y="375.00" font-size="9.5" text-anchor="middle" fill="#1a1a1a" font-weight="normal">5</text>
<line x1="148.00" y1="362.90" x2="148.00" y2="366.40" stroke="#3a3a3a" stroke-width="1.2" stroke-linecap="butt"/>
<text x="147.40" y="375.00" font-size="9.5" text-anchor="middle" fill="#1a1a1a" font-weight="normal">10</text>
<line x1="194.75" y1="362.90" x2="194.75" y2="366.40" stroke="#3a3a3a" stroke-width="1.2" stroke-linecap="butt"/>
<text x="194.15" y="375.00" font-size="9.5" text-anchor="middle" fill="#1a1a1a" font-weight="normal">15</text>
<line x1="241.50" y1="362.90" x2="241.50" y2="366.40" stroke="#3a3a3a" stroke-width="1.2" stroke-linecap="butt"/>
<text x="240.90" y="375.00" font-size="9.5" text-anchor="middle" fill="#1a1a1a" font-weight="normal">20</text>
<text x="141.50" y="382.80" font-size="10" text-anchor="middle" fill="#1a1a1a" font-weight="normal">Dose</text>
<text x="29.20" y="307.50" font-size="10" text-anchor="middle" fill="#1a1a1a" font-weight="normal" transform="rotate(-90 29.2 307.5)">Effect</text>
<line x1="54.00" y1="393.80" x2="67.90" y2="393.80" stroke="#aaa" stroke-width="1" stroke-linecap="butt"/>
<circle cx="61.20" cy="393.80" r="2.20" fill="#fff" stroke="#999" stroke-width="0.9"/>
<text x="70.80" y="399.80" font-size="9.2" text-anchor="start" fill="#1a1a1a" font-weight="normal">LBH</text>
<line x1="116.00" y1="394.00" x2="129.00" y2="394.00" stroke="#ddd" stroke-width="1" stroke-linecap="butt"/>
<rect x="120.60" y="391.80" width="4.40" height="4.40" fill="#fff" stroke="#d0d0d0" stroke-width="0.9"/>
<text x="134.20" y="399.60" font-size="9.2" text-anchor="start" fill="#1a1a1a" font-weight="normal">PS341</text>
<line x1="179.20" y1="394.20" x2="193.50" y2="394.20" stroke="#888" stroke-width="1" stroke-linecap="butt"/>
<path d="M183.90,392.06 L188.90,392.06 L186.40,396.81 Z" fill="#fff" stroke="#555" stroke-width="1" stroke-linejoin="miter"/>
<text x="196.00" y="400.00" font-size="9.2" text-anchor="start" fill="#1a1a1a" font-weight="normal">Combination</text>
<text x="3.70" y="244.80" font-size="23" text-anchor="start" fill="#000" font-weight="bold">C</text>
<line x1="324.40" y1="289.30" x2="512.40" y2="289.30" stroke="#a8a8a8" stroke-width="1.1" stroke-linecap="butt"/>
<line x1="324.40" y1="251.00" x2="324.40" y2="366.10" stroke="#3a3a3a" stroke-width="1.3" stroke-linecap="butt"/>
<line x1="310.60" y1="365.50" x2="512.40" y2="365.50" stroke="#3a3a3a" stroke-width="1.5" stroke-linecap="butt"/>
<line x1="319.30" y1="327.40" x2="324.40" y2="327.40" stroke="#3a3a3a" stroke-width="1.2" stroke-linecap="butt"/>
<text x="317.40" y="328.90" font-size="8.7" text-anchor="end" fill="#1a1a1a" font-weight="normal" letter-spacing="-0.45">0.5</text>
<line x1="319.30" y1="289.30" x2="324.40" y2="289.30" stroke="#3a3a3a" stroke-width="1.2" stroke-linecap="butt"/>
<text x="317.40" y="290.80" font-size="8.7" text-anchor="end" fill="#1a1a1a" font-weight="normal" letter-spacing="-0.45">1.0</text>
<line x1="319.30" y1="251.20" x2="324.40" y2="251.20" stroke="#3a3a3a" stroke-width="1.2" stroke-linecap="butt"/>
<text x="317.40" y="252.70" font-size="8.7" text-anchor="end" fill="#1a1a1a" font-weight="normal" letter-spacing="-0.45">1.5</text>
<text x="309.60" y="366.10" font-size="8.7" text-anchor="middle" fill="#1a1a1a" font-weight="normal">0</text>
<line x1="324.40" y1="365.50" x2="324.40" y2="368.90" stroke="#3a3a3a" stroke-width="1.2" stroke-linecap="butt"/>
<text x="323.30" y="377.30" font-size="8.7" text-anchor="middle" fill="#1a1a1a" font-weight="normal" letter-spacing="-0.45">0</text>
<line x1="361.36" y1="365.50" x2="361.36" y2="368.90" stroke="#3a3a3a" stroke-width="1.2" stroke-linecap="butt"/>
<text x="360.26" y="377.30" font-size="8.7" text-anchor="middle" fill="#1a1a1a" font-weight="normal" letter-spacing="-0.45">0.2</text>
<line x1="399.12" y1="365.50" x2="399.12" y2="368.90" stroke="#3a3a3a" stroke-width="1.2" stroke-linecap="butt"/>
<text x="398.02" y="377.30" font-size="8.7" text-anchor="middle" fill="#1a1a1a" font-weight="normal" letter-spacing="-0.45">0.4</text>
<line x1="436.88" y1="365.50" x2="436.88" y2="368.90" stroke="#3a3a3a" stroke-width="1.2" stroke-linecap="butt"/>
<text x="435.78" y="377.30" font-size="8.7" text-anchor="middle" fill="#1a1a1a" font-weight="normal" letter-spacing="-0.45">0.6</text>
<line x1="474.64" y1="365.50" x2="474.64" y2="368.90" stroke="#3a3a3a" stroke-width="1.2" stroke-linecap="butt"/>
<text x="473.54" y="377.30" font-size="8.7" text-anchor="middle" fill="#1a1a1a" font-weight="normal" letter-spacing="-0.45">0.8</text>
<line x1="512.40" y1="365.50" x2="512.40" y2="368.90" stroke="#3a3a3a" stroke-width="1.2" stroke-linecap="butt"/>
<text x="511.30" y="377.30" font-size="8.7" text-anchor="middle" fill="#1a1a1a" font-weight="normal" letter-spacing="-0.45">1.0</text>
<text x="412.90" y="385.90" font-size="10" text-anchor="middle" fill="#1a1a1a" font-weight="normal">Effect</text>
<text x="299.00" y="311.50" font-size="10.1" text-anchor="middle" fill="#1a1a1a" font-weight="normal" transform="rotate(-90 299 311.5)">Combination Index</text>
<ellipse cx="355.70" cy="261.33" rx="2.40" ry="2.70" fill="none" stroke="#6a6a6a" stroke-width="1.3"/>
<ellipse cx="408.56" cy="274.06" rx="2.40" ry="2.70" fill="none" stroke="#6a6a6a" stroke-width="1.3"/>
<ellipse cx="502.96" cy="334.87" rx="2.40" ry="2.70" fill="none" stroke="#6a6a6a" stroke-width="1.3"/>
<ellipse cx="511.83" cy="360.62" rx="2.40" ry="2.70" fill="none" stroke="#6a6a6a" stroke-width="1.3"/>
<line x1="321.50" y1="397.90" x2="328.50" y2="397.90" stroke="#ddd" stroke-width="1" stroke-linecap="butt"/>
<circle cx="330.60" cy="397.90" r="2.30" fill="none" stroke="#777" stroke-width="1"/>
<text x="341.10" y="403.80" font-size="9" text-anchor="start" fill="#1a1a1a" font-weight="normal">Combination</text>
<line x1="449.90" y1="398.20" x2="463.30" y2="398.20" stroke="#aaa" stroke-width="1.2" stroke-linecap="butt"/>
<text x="466.60" y="403.60" font-size="9.3" text-anchor="start" fill="#1a1a1a" font-weight="normal">CI = 1.0</text>
<text x="278.00" y="245.80" font-size="22.5" text-anchor="start" fill="#000" font-weight="bold">D</text>
<line x1="53.50" y1="441.20" x2="53.50" y2="593.50" stroke="#e2e2e2" stroke-width="1" stroke-linecap="butt"/>
<line x1="53.50" y1="590.00" x2="307.90" y2="590.00" stroke="#e2e2e2" stroke-width="1" stroke-linecap="butt"/>
<line x1="49.00" y1="590.00" x2="53.50" y2="590.00" stroke="#e2e2e2" stroke-width="1" stroke-linecap="butt"/>
<line x1="49.00" y1="565.20" x2="53.50" y2="565.20" stroke="#e2e2e2" stroke-width="1" stroke-linecap="butt"/>
<line x1="49.00" y1="540.40" x2="53.50" y2="540.40" stroke="#e2e2e2" stroke-width="1" stroke-linecap="butt"/>
<line x1="49.00" y1="515.60" x2="53.50" y2="515.60" stroke="#e2e2e2" stroke-width="1" stroke-linecap="butt"/>
<line x1="49.00" y1="490.80" x2="53.50" y2="490.80" stroke="#e2e2e2" stroke-width="1" stroke-linecap="butt"/>
<line x1="49.00" y1="466.00" x2="53.50" y2="466.00" stroke="#e2e2e2" stroke-width="1" stroke-linecap="butt"/>
<line x1="49.00" y1="441.20" x2="53.50" y2="441.20" stroke="#e2e2e2" stroke-width="1" stroke-linecap="butt"/>
<line x1="95.90" y1="590.00" x2="95.90" y2="593.50" stroke="#e2e2e2" stroke-width="1" stroke-linecap="butt"/>
<line x1="138.30" y1="590.00" x2="138.30" y2="593.50" stroke="#e2e2e2" stroke-width="1" stroke-linecap="butt"/>
<line x1="180.70" y1="590.00" x2="180.70" y2="593.50" stroke="#e2e2e2" stroke-width="1" stroke-linecap="butt"/>
<line x1="223.10" y1="590.00" x2="223.10" y2="593.50" stroke="#e2e2e2" stroke-width="1" stroke-linecap="butt"/>
<line x1="265.50" y1="590.00" x2="265.50" y2="593.50" stroke="#e2e2e2" stroke-width="1" stroke-linecap="butt"/>
<line x1="307.90" y1="590.00" x2="307.90" y2="593.50" stroke="#e2e2e2" stroke-width="1" stroke-linecap="butt"/>
<text x="45.20" y="592.60" font-size="9.2" text-anchor="end" fill="#1a1a1a" font-weight="normal">0%</text>
<text x="45.20" y="567.80" font-size="9.2" text-anchor="end" fill="#1a1a1a" font-weight="normal">20%</text>
<text x="45.20" y="543.00" font-size="9.2" text-anchor="end" fill="#1a1a1a" font-weight="normal">40%</text>
<text x="45.20" y="518.20" font-size="9.2" text-anchor="end" fill="#1a1a1a" font-weight="normal">60%</text>
<text x="45.20" y="493.40" font-size="9.2" text-anchor="end" fill="#1a1a1a" font-weight="normal">80%</text>
<text x="45.20" y="468.60" font-size="9.2" text-anchor="end" fill="#1a1a1a" font-weight="normal">100%</text>
<text x="45.20" y="443.80" font-size="9.2" text-anchor="end" fill="#1a1a1a" font-weight="normal">120%</text>
<text x="74.70" y="606.90" font-size="9.2" text-anchor="middle" fill="#1a1a1a" font-weight="normal">0</text>
<text x="117.10" y="606.90" font-size="9.2" text-anchor="middle" fill="#1a1a1a" font-weight="normal">20</text>
<text x="159.50" y="606.90" font-size="9.2" text-anchor="middle" fill="#1a1a1a" font-weight="normal">40</text>
<text x="201.90" y="606.90" font-size="9.2" text-anchor="middle" fill="#1a1a1a" font-weight="normal">60</text>
<text x="244.30" y="606.90" font-size="9.2" text-anchor="middle" fill="#1a1a1a" font-weight="normal">80</text>
<text x="286.70" y="606.90" font-size="9.2" text-anchor="middle" fill="#1a1a1a" font-weight="normal">100</text>
<text x="180.40" y="624.60" font-size="10" text-anchor="middle" fill="#1a1a1a" font-weight="normal">Drug Concentrations (nM)</text>
<text x="12.70" y="514.60" font-size="10" text-anchor="middle" fill="#1a1a1a" font-weight="normal" transform="rotate(-90 12.7 514.6)">Viable Cells (% Control)</text>
<line x1="117.10" y1="485.34" x2="117.10" y2="492.54" stroke="#222" stroke-width="1" stroke-linecap="butt"/>
<line x1="114.85" y1="485.34" x2="119.35" y2="485.34" stroke="#222" stroke-width="1" stroke-linecap="butt"/>
<line x1="114.85" y1="492.54" x2="119.35" y2="492.54" stroke="#222" stroke-width="1" stroke-linecap="butt"/>
<line x1="117.10" y1="487.45" x2="117.10" y2="497.00" stroke="#222" stroke-width="1" stroke-linecap="butt"/>
<line x1="114.85" y1="487.45" x2="119.35" y2="487.45" stroke="#222" stroke-width="1" stroke-linecap="butt"/>
<line x1="114.85" y1="497.00" x2="119.35" y2="497.00" stroke="#222" stroke-width="1" stroke-linecap="butt"/>
<line x1="159.50" y1="488.57" x2="159.50" y2="496.50" stroke="#222" stroke-width="1" stroke-linecap="butt"/>
<line x1="157.25" y1="488.57" x2="161.75" y2="488.57" stroke="#222" stroke-width="1" stroke-linecap="butt"/>
<line x1="157.25" y1="496.50" x2="161.75" y2="496.50" stroke="#222" stroke-width="1" stroke-linecap="butt"/>
<line x1="159.50" y1="491.42" x2="159.50" y2="502.83" stroke="#222" stroke-width="1" stroke-linecap="butt"/>
<line x1="157.25" y1="491.42" x2="161.75" y2="491.42" stroke="#222" stroke-width="1" stroke-linecap="butt"/>
<line x1="157.25" y1="502.83" x2="161.75" y2="502.83" stroke="#222" stroke-width="1" stroke-linecap="butt"/>
<line x1="201.90" y1="495.51" x2="201.90" y2="508.16" stroke="#222" stroke-width="1" stroke-linecap="butt"/>
<line x1="199.65" y1="495.51" x2="204.15" y2="495.51" stroke="#222" stroke-width="1" stroke-linecap="butt"/>
<line x1="199.65" y1="508.16" x2="204.15" y2="508.16" stroke="#222" stroke-width="1" stroke-linecap="butt"/>
<line x1="244.30" y1="504.44" x2="244.30" y2="509.40" stroke="#222" stroke-width="1" stroke-linecap="butt"/>
<line x1="242.05" y1="504.44" x2="246.55" y2="504.44" stroke="#222" stroke-width="1" stroke-linecap="butt"/>
<line x1="242.05" y1="509.40" x2="246.55" y2="509.40" stroke="#222" stroke-width="1" stroke-linecap="butt"/>
<line x1="286.70" y1="511.26" x2="286.70" y2="517.46" stroke="#222" stroke-width="1" stroke-linecap="butt"/>
<line x1="284.45" y1="511.26" x2="288.95" y2="511.26" stroke="#222" stroke-width="1" stroke-linecap="butt"/>
<line x1="284.45" y1="517.46" x2="288.95" y2="517.46" stroke="#222" stroke-width="1" stroke-linecap="butt"/>
<polyline points="74.70,466.00 117.10,492.04 159.50,510.64 201.90,515.60 244.30,516.22 286.70,522.05" fill="none" stroke="#000" stroke-width="2.2" stroke-dasharray="8,3.5" stroke-linecap="butt" stroke-linejoin="round"/>
<polyline points="74.70,466.00 117.10,492.54 159.50,496.50 201.90,514.98 244.30,517.71 286.70,521.18" fill="none" stroke="#000" stroke-width="2.2" stroke-dasharray="3,6" stroke-linecap="butt" stroke-linejoin="round"/>
<polyline points="74.70,466.00 117.10,496.38 159.50,502.83 201.90,508.16 244.30,509.40 286.70,517.46" fill="none" stroke="#000" stroke-width="2.3" stroke-linecap="butt" stroke-linejoin="round"/>
<path d="M74.70,462.00 L78.70,466.00 L74.70,470.00 L70.70,466.00 Z" fill="#000" stroke="#000" stroke-width="0.5"/>
<path d="M117.10,488.04 L121.10,492.04 L117.10,496.04 L113.10,492.04 Z" fill="#000" stroke="#000" stroke-width="0.5"/>
<path d="M159.50,506.64 L163.50,510.64 L159.50,514.64 L155.50,510.64 Z" fill="#000" stroke="#000" stroke-width="0.5"/>
<path d="M201.90,511.60 L205.90,515.60 L201.90,519.60 L197.90,515.60 Z" fill="#000" stroke="#000" stroke-width="0.5"/>
<path d="M244.30,512.22 L248.30,516.22 L244.30,520.22 L240.30,516.22 Z" fill="#000" stroke="#000" stroke-width="0.5"/>
<path d="M286.70,518.05 L290.70,522.05 L286.70,526.05 L282.70,522.05 Z" fill="#000" stroke="#000" stroke-width="0.5"/>
<path d="M74.70,461.90 L78.50,468.74 L70.90,468.74 Z" fill="#000" stroke="#000" stroke-width="0.5" stroke-linejoin="miter"/>
<path d="M117.10,488.43 L120.90,495.27 L113.30,495.27 Z" fill="#000" stroke="#000" stroke-width="0.5" stroke-linejoin="miter"/>
<path d="M159.50,492.40 L163.30,499.24 L155.70,499.24 Z" fill="#000" stroke="#000" stroke-width="0.5" stroke-linejoin="miter"/>
<path d="M201.90,510.88 L205.70,517.72 L198.10,517.72 Z" fill="#000" stroke="#000" stroke-width="0.5" stroke-linejoin="miter"/>
<path d="M244.30,513.60 L248.10,520.44 L240.50,520.44 Z" fill="#000" stroke="#000" stroke-width="0.5" stroke-linejoin="miter"/>
<path d="M286.70,517.08 L290.50,523.92 L282.90,523.92 Z" fill="#000" stroke="#000" stroke-width="0.5" stroke-linejoin="miter"/>
<rect x="71.20" y="462.50" width="7.00" height="7.00" fill="#000" stroke="#000" stroke-width="0.4"/>
<rect x="113.60" y="492.88" width="7.00" height="7.00" fill="#000" stroke="#000" stroke-width="0.4"/>
<rect x="156.00" y="499.33" width="7.00" height="7.00" fill="#000" stroke="#000" stroke-width="0.4"/>
<rect x="198.40" y="504.66" width="7.00" height="7.00" fill="#000" stroke="#000" stroke-width="0.4"/>
<rect x="240.80" y="505.90" width="7.00" height="7.00" fill="#000" stroke="#000" stroke-width="0.4"/>
<rect x="283.20" y="513.96" width="7.00" height="7.00" fill="#000" stroke="#000" stroke-width="0.4"/>
<line x1="162.80" y1="447.00" x2="173.00" y2="447.00" stroke="#000" stroke-width="1.9" stroke-linecap="butt"/>
<line x1="176.00" y1="447.00" x2="190.30" y2="447.00" stroke="#000" stroke-width="1.9" stroke-linecap="butt"/>
<path d="M177.80,443.40 L181.40,447.00 L177.80,450.60 L174.20,447.00 Z" fill="#000" stroke="#000" stroke-width="0.5"/>
<text x="197.30" y="449.90" font-size="10" text-anchor="start" fill="#1a1a1a" font-weight="normal">LBH</text>
<line x1="162.00" y1="463.30" x2="194.80" y2="463.30" stroke="#000" stroke-width="1.9" stroke-linecap="butt"/>
<rect x="175.20" y="460.50" width="5.60" height="5.60" fill="#000" stroke="#000" stroke-width="0.4"/>
<text x="197.30" y="466.20" font-size="10" text-anchor="start" fill="#1a1a1a" font-weight="normal">Bortezomib</text>
<line x1="162.80" y1="479.60" x2="194.80" y2="479.60" stroke="#000" stroke-width="1.9" stroke-dasharray="3,6.3" stroke-linecap="butt"/>
<path d="M178.20,475.93 L181.60,482.05 L174.80,482.05 Z" fill="#000" stroke="#000" stroke-width="0.5" stroke-linejoin="miter"/>
<text x="197.30" y="482.50" font-size="9.8" text-anchor="start" fill="#1a1a1a" font-weight="normal">Combination</text>
<text x="3.00" y="433.60" font-size="23" text-anchor="start" fill="#000" font-weight="bold">E</text>
</svg></body></html>
